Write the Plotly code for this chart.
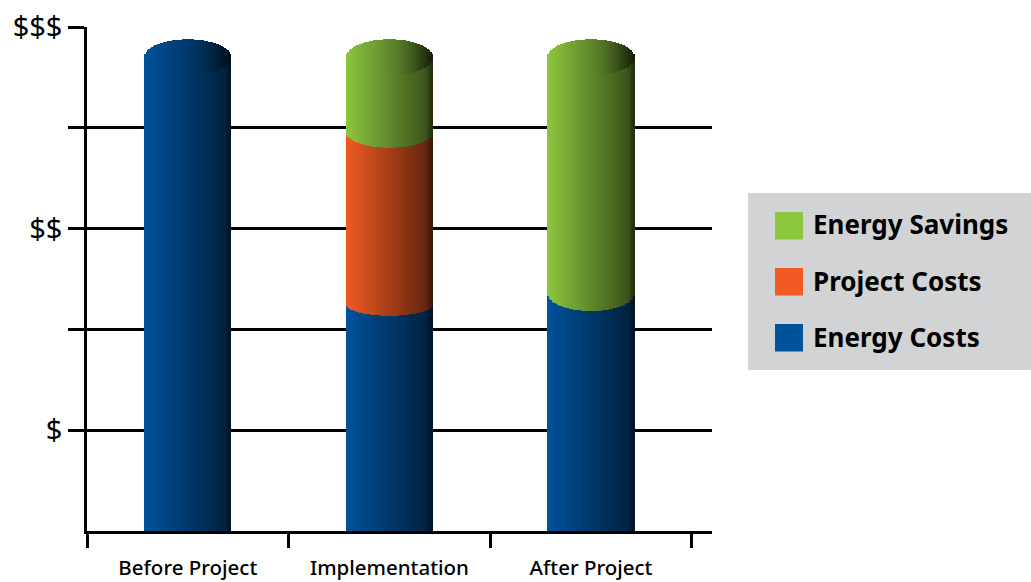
import math
import plotly.graph_objects as go

categories = ["Before Project", "Implementation", "After Project"]
energy_costs = [2.35, 1.125, 1.18]
project_costs = [0.0, 0.855, 0.0]
energy_savings = [0.0, 0.37, 1.17]
y_tick_values = [0.5, 1.0, 1.5, 2.0, 2.5]
y_tick_labels = ["$", "", "$$", "", "$$$"]
series_names = ["Energy Costs", "Project Costs", "Energy Savings"]

BASE_COLORS = {"Energy Costs": (0, 82, 155), "Project Costs": (241, 90, 34), "Energy Savings": (141, 198, 63)}
SERIES = {"Energy Costs": energy_costs, "Project Costs": project_costs, "Energy Savings": energy_savings}
# depth of the elliptical boundary above each series, per category
TOP_DEPTH = {"Energy Costs": [0.089, 0.057, 0.089], "Project Costs": [0, 0.079, 0], "Energy Savings": [0, 0.089, 0.089]}
HALF_W = 0.2145
N = 60
STEP = 2 * HALF_W / N
FONT = "Noto Sans"


def shade(rgb, t, cap=False):
    f = 1 - 0.62 * t
    if cap:
        f -= 0.24 * max(0, (t - 0.5) / 0.5) ** 2
    else:
        f -= 0.15 * max(0, (t - 0.93) / 0.07)
    return "rgb(%d,%d,%d)" % tuple(round(c * f) for c in rgb)


fig = go.Figure()
running = [0.0] * len(categories)
prev_depth = [0.0] * len(categories)
last_series = [None] * len(categories)
last_top = [0.0] * len(categories)
last_depth = [0.0] * len(categories)

for name in series_names:
    xs, ys, bases, cols = [], [], [], []
    vals = SERIES[name]
    for c in range(len(categories)):
        if vals[c] <= 0:
            continue
        bottom = running[c]
        top = bottom + vals[c]
        for i in range(N):
            t = (i + 0.5) / N
            dx = 2 * t - 1
            s = math.sqrt(1 - dx * dx)
            lo = bottom - prev_depth[c] * s
            hi = top - TOP_DEPTH[name][c] * s
            xs.append(c + dx * HALF_W)
            bases.append(lo)
            ys.append(hi - lo)
            cols.append(shade(BASE_COLORS[name], t))
        running[c] = top
        prev_depth[c] = TOP_DEPTH[name][c]
        last_series[c] = name
        last_top[c] = top
        last_depth[c] = TOP_DEPTH[name][c]
    fig.add_trace(go.Bar(x=xs, y=ys, base=bases, width=STEP * 1.6, name=name,
                         marker=dict(color=cols, line=dict(width=0)), showlegend=False, hoverinfo="skip"))

# cylinder caps
xs, ys, bases, cols = [], [], [], []
for c in range(len(categories)):
    for i in range(N):
        t = (i + 0.5) / N
        dx = 2 * t - 1
        s = math.sqrt(1 - dx * dx)
        d = last_depth[c] * s
        xs.append(c + dx * HALF_W)
        bases.append(last_top[c] - d)
        ys.append(2 * d)
        cols.append(shade(BASE_COLORS[last_series[c]], t, cap=True))
fig.add_trace(go.Bar(x=xs, y=ys, base=bases, width=STEP * 1.6, name="Top",
                     marker=dict(color=cols, line=dict(width=0)), showlegend=False, hoverinfo="skip"))

# legend panel
W, H = 1031, 582
L, R, T, B = 87, 319, 27, 51
pw, ph = W - L - R, H - T - B


def px(x):
    return (x - L) / pw


def py(y):
    return 1 - (y - T) / ph


shapes = [dict(type="rect", xref="paper", yref="paper", x0=px(748), x1=px(1031), y0=py(193), y1=py(370),
               fillcolor="#d1d3d4", line=dict(width=0), layer="below")]
annotations = []
for name, y0 in zip(reversed(series_names), [212, 268, 324]):
    r, g, b = BASE_COLORS[name]
    shapes.append(dict(type="rect", xref="paper", yref="paper", x0=px(775), x1=px(803), y0=py(y0), y1=py(y0 + 27.5),
                       fillcolor="rgb(%d,%d,%d)" % (r, g, b), line=dict(width=0)))
    annotations.append(dict(text=name, xref="paper", yref="paper", x=px(811), y=py(y0 + 12.5), xanchor="left",
                            yanchor="middle", showarrow=False, font=dict(family=FONT, size=26, color="black", weight=700)))

fig.update_layout(
    width=W, height=H, autosize=False, barmode="overlay", bargap=0,
    margin=dict(l=L, r=R, t=T, b=B, pad=0, autoexpand=False),
    paper_bgcolor="white", plot_bgcolor="white", showlegend=False,
    shapes=shapes, annotations=annotations,
    xaxis=dict(range=[-0.5, 2.6], tickmode="array", tickvals=[0, 1, 2], ticktext=categories, ticks="", showgrid=False,
               automargin=False,
               zeroline=False, showline=True, linecolor="black", linewidth=2.5, ticklabelstandoff=17,
               tickfont=dict(family=FONT, size=20.5, color="black", weight=500),
               minor=dict(tickmode="array", tickvals=[-0.5, 0.5, 1.5, 2.5], ticks="outside", ticklen=14, tickwidth=2.5,
                          tickcolor="black", showgrid=False)),
    yaxis=dict(range=[0, 2.5], tickmode="array", tickvals=y_tick_values, ticktext=y_tick_labels, ticks="outside",
               automargin=False,
               ticklen=16, tickwidth=2.5, tickcolor="black", showgrid=True, gridcolor="black", gridwidth=2.5,
               zeroline=False, showline=True, linecolor="black", linewidth=2.5, ticklabelstandoff=0,
               tickfont=dict(family=FONT, size=29, color="black")),
)

fig.write_html("out.html", config={"displayModeBar": False}, post_script="document.body.style.margin='0';")
